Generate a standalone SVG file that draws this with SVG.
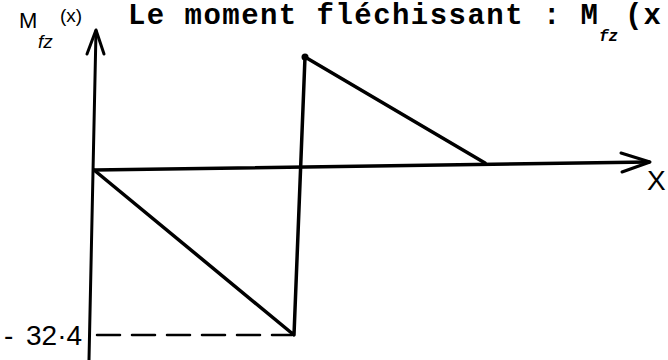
<svg xmlns="http://www.w3.org/2000/svg" width="668" height="360" viewBox="0 0 668 360">
  <style>
    .ink { stroke: #000; fill: none; stroke-linecap: round; stroke-linejoin: round; }
    .typed { font-family: "Liberation Mono", "DejaVu Sans Mono", monospace; fill: #000; font-weight: bold; }
    .hand { font-family: "Liberation Sans", "DejaVu Sans", sans-serif; fill: #000; }
  </style>
  <rect width="668" height="360" fill="#fff"/>

  <g id="title">
    <text class="typed" x="128" y="24" font-size="29" textLength="470" lengthAdjust="spacing">Le moment fléchissant : M</text>
    <text class="typed" x="599" y="41" font-size="16" font-style="italic" font-weight="normal">fz</text>
    <text class="typed" x="625" y="24" font-size="29" textLength="36" lengthAdjust="spacing">(x</text>
  </g>

  <g id="y-axis">
    <path class="ink" stroke-width="3" d="M96 31 L89 360"/>
    <path class="ink" stroke-width="3" d="M87 54 L96 30 L104 54"/>
    <text class="hand" x="19" y="28" font-size="22">M</text>
    <text class="hand" x="38" y="48" font-size="19" font-style="italic">fz</text>
    <text class="hand" x="60" y="22" font-size="19">(x)</text>
  </g>

  <g id="x-axis">
    <path class="ink" stroke-width="3.5" d="M94 170 L649 162"/>
    <path class="ink" stroke-width="3" d="M621 153 L650 162 L622 172"/>
    <text class="hand" x="647" y="190" font-size="28">X</text>
  </g>

  <g id="moment-curve">
    <path class="ink" stroke-width="3.5" d="M94 170 L294 335 L305 57 L485 163"/>
    <circle cx="305" cy="57" r="3.5" fill="#000"/>
  </g>

  <g id="min-marker">
    <path class="ink" stroke-width="2.5" stroke-linecap="butt" stroke-dasharray="23 12" d="M97 335 L292 335"/>
    <text class="hand" x="4" y="345" font-size="28">-</text>
    <text class="hand" x="26" y="345" font-size="28">32·4</text>
  </g>
</svg>
